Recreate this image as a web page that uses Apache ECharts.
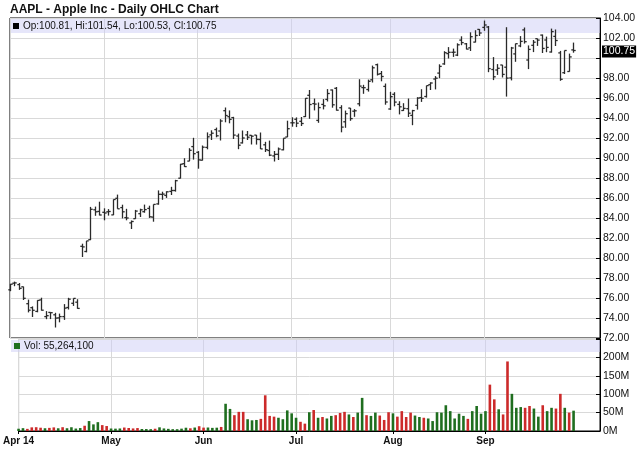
<!DOCTYPE html>
<html>
<head>
<meta charset="utf-8">
<script src="https://cdn.jsdelivr.net/npm/echarts@6/dist/echarts.min.js"></script>
<style>
html,body{margin:0;padding:0;background:#fff;}
#chart{width:640px;height:468px;}
</style>
</head>
<body>
<div id="chart"></div>
<script>
// ---- data (AAPL daily, Apr 1 - Sep 30 2014) ----
const dates = [
 '04-01','04-02','04-03','04-04','04-07','04-08','04-09','04-10','04-11','04-14','04-15','04-16','04-17','04-21','04-22','04-23','04-24','04-25','04-28','04-29','04-30',
 '05-01','05-02','05-05','05-06','05-07','05-08','05-09','05-12','05-13','05-14','05-15','05-16','05-19','05-20','05-21','05-22','05-23','05-27','05-28','05-29','05-30',
 '06-02','06-03','06-04','06-05','06-06','06-09','06-10','06-11','06-12','06-13','06-16','06-17','06-18','06-19','06-20','06-23','06-24','06-25','06-26','06-27','06-30',
 '07-01','07-02','07-03','07-07','07-08','07-09','07-10','07-11','07-14','07-15','07-16','07-17','07-18','07-21','07-22','07-23','07-24','07-25','07-28','07-29','07-30','07-31',
 '08-01','08-04','08-05','08-06','08-07','08-08','08-11','08-12','08-13','08-14','08-15','08-18','08-19','08-20','08-21','08-22','08-25','08-26','08-27','08-28','08-29',
 '09-02','09-03','09-04','09-05','09-08','09-09','09-10','09-11','09-12','09-15','09-16','09-17','09-18','09-19','09-22','09-23','09-24','09-25','09-26','09-29','09-30'
];
const futureDates = ['10-01','10-02','10-03','10-06','10-07','10-08'];

const opens = [
 76.82,77.48,77.34,77.12,75.43,75.03,74.66,75.81,74.14,74.56,74.32,74.01,74.14,75.05,75.47,75.58,81.17,80.65,81.83,84.82,84.66,
 84.57,84.62,84.31,85.97,85.04,84.04,83.51,83.93,84.43,84.63,84.96,84.09,85.41,86.36,86.26,86.66,86.75,87.98,89.43,89.69,91.14,
 90.57,89.78,91.06,92.31,92.84,92.70,94.73,94.13,94.04,92.20,91.51,92.31,92.27,92.29,91.85,91.32,90.75,90.21,90.37,90.82,92.10,
 93.52,93.87,93.67,94.14,96.27,95.44,93.76,95.36,95.86,96.80,96.97,95.03,93.62,94.99,94.68,95.42,97.04,96.85,97.82,99.33,98.44,97.16,
 94.90,96.37,95.36,94.75,94.93,94.26,95.27,96.04,96.15,97.33,97.90,98.49,99.41,100.44,100.57,100.29,101.79,101.42,101.02,101.59,102.86,
 103.06,103.10,98.85,98.80,99.30,99.08,98.01,100.41,101.21,102.81,99.80,101.27,101.93,102.29,101.80,100.60,102.16,100.51,98.53,98.65,100.81
];
const highs = [
 77.41,77.64,77.50,77.14,75.84,75.16,75.78,76.03,74.69,74.59,74.52,74.44,75.39,76.02,75.97,75.88,81.43,81.71,85.11,85.14,85.63,
 84.97,84.89,85.86,86.34,85.33,84.92,83.75,84.81,84.93,85.34,85.23,85.36,86.76,86.63,86.67,87.12,87.82,89.41,89.98,90.98,92.02,
 90.69,91.25,92.56,92.77,93.04,93.88,95.05,94.76,94.12,92.44,92.75,92.70,92.29,92.30,92.55,91.62,91.74,90.70,91.05,91.98,93.73,
 94.07,94.06,94.10,95.99,96.80,95.95,95.55,95.89,96.89,96.85,97.10,95.28,94.74,95.00,94.89,97.88,97.32,97.84,99.24,99.44,98.70,97.45,
 96.62,96.58,95.68,95.48,95.95,94.82,96.08,96.88,97.24,97.57,98.19,99.37,100.68,101.09,100.94,101.47,102.17,101.50,102.57,102.78,102.90,
 103.74,103.20,100.09,99.39,99.31,103.08,101.11,101.44,102.19,103.05,101.26,101.80,101.94,102.35,102.14,102.94,102.85,100.71,100.75,100.44,101.54
];
const lows = [
 76.68,77.18,76.81,75.80,74.56,74.10,74.57,74.74,73.88,73.89,73.05,73.57,73.81,74.85,75.21,74.92,80.10,80.57,81.79,84.22,84.26,
 83.77,84.24,84.29,84.92,83.96,83.77,82.90,83.91,84.10,84.53,84.01,83.63,85.33,85.82,86.01,86.30,86.64,87.95,89.11,89.68,89.84,
 88.93,89.75,90.87,91.80,92.07,91.75,93.57,93.47,91.90,90.88,91.45,91.80,91.35,91.34,90.90,90.60,90.19,89.65,89.80,90.77,92.09,
 93.13,93.09,93.20,94.10,93.92,94.76,93.52,94.86,95.65,95.03,94.74,92.57,93.02,93.72,94.12,95.17,96.42,96.64,97.55,98.25,97.67,95.33,
 94.81,95.17,94.36,94.71,94.10,93.28,94.84,95.61,96.04,96.80,96.86,97.98,99.32,99.95,100.11,100.19,101.28,100.86,100.70,101.56,102.20,
 102.72,98.58,97.79,98.31,98.05,96.14,97.76,99.62,101.08,101.44,98.89,100.59,101.21,100.50,100.58,100.54,101.20,97.72,98.40,98.63,100.53
];
const closes = [
 77.38,77.51,76.97,75.97,74.78,74.77,75.76,74.78,74.23,74.53,73.99,74.14,74.99,75.88,75.96,74.96,81.11,81.71,84.87,84.62,84.30,
 84.50,84.65,85.85,84.92,84.62,84.00,83.65,84.69,84.82,84.84,84.12,85.36,86.37,86.39,86.62,86.75,87.73,89.38,89.14,90.77,90.43,
 89.81,91.08,92.12,92.48,92.22,93.70,94.25,93.86,92.29,91.28,92.00,92.08,92.18,91.86,90.91,90.83,90.28,90.36,90.90,91.98,92.93,
 93.52,93.48,93.45,95.97,95.35,95.39,95.04,95.22,96.45,95.32,94.78,93.09,94.43,93.94,94.72,97.19,97.03,97.67,99.02,98.38,98.15,95.60,
 96.13,95.59,95.12,94.96,94.48,94.74,95.99,95.97,97.24,97.50,97.98,99.16,100.53,100.57,100.58,101.32,101.54,100.89,102.13,102.25,102.50,
 103.30,98.94,98.12,98.97,98.36,97.99,101.00,101.43,101.66,101.63,100.86,101.58,101.79,100.96,101.06,102.64,101.75,97.87,100.75,100.11,100.75
];
// volume in millions of shares
const volumes = [
 6.2,7.7,5.8,9.9,10.3,8.9,7.5,8.5,9.8,7.4,10.3,7.5,10.2,6.7,8.0,14.3,27.0,18.0,24.0,16.0,13.5,
 6.8,6.4,6.9,9.4,8.2,7.0,8.0,5.5,5.3,5.0,6.2,10.0,7.0,5.9,5.0,4.9,6.4,8.9,7.4,9.4,13.0,
 9.2,9.5,8.5,9.0,11.0,74,60,43,52,52,32,29,30,33,97,41,39,36,32,56,48,
 36,25,20,51,57,36,38,34,41,43,49,52,45,38,50,90,43,41,50,42,30,51,
 48,39,54,38,50,42,38,36,34,27,51,50,70,54,34,47,41,33,54,68,47,
 54,126,86,59,45,189,101,63,65,63,68,61,39,70,54,63,61,101,63,50,55.2641
];
const monthStarts = ['04-01','05-01','06-02','07-01','08-01','09-02'];
const monthLabels = ['Apr 14','May','Jun','Jul','Aug','Sep'];
const priceTicks = {min: 72, max: 104, step: 2};
const volTicks = {min: 0, max: 250, step: 50};

// ---- build ----
const categories = dates.concat(futureDates);
const ohlc = dates.map((d, i) => [i, opens[i], highs[i], lows[i], closes[i]]);
const n = dates.length;
const lastO = opens[n-1], lastH = highs[n-1], lastL = lows[n-1], lastC = closes[n-1];
const lastVol = Math.round(volumes[n-1] * 1e6);
const isMonthStart = (idx) => monthStarts.indexOf(categories[idx]) >= 0;
const FONT = '"Liberation Sans", Arial, sans-serif';
const GREEN = '#1f6e1f', RED = '#cc2a2a', GRIDC = '#d9d9d9';

const chart = echarts.init(document.getElementById('chart'), null, {renderer: 'canvas'});

const L = 10, R = 40;
const option = {
  animation: false,
  backgroundColor: '#fff',
  textStyle: {fontFamily: FONT},
  title: {
    text: 'AAPL - Apple Inc - Daily OHLC Chart',
    left: 10, top: 4, padding: 0,
    textStyle: {fontFamily: FONT, fontSize: 12, fontWeight: 'bold', color: '#111'}
  },
  grid: [
    {left: L, right: R, top: 18, height: 320, show: true, borderColor: '#000', borderWidth: 1, backgroundColor: 'transparent'},
    {left: L, right: R, top: 339, height: 92, show: true, borderColor: '#000', borderWidth: 1, backgroundColor: 'transparent'}
  ],
  xAxis: [
    {
      type: 'category', gridIndex: 0, data: categories, boundaryGap: false,
      axisLine: {show: false}, axisTick: {show: false}, axisLabel: {show: false},
      splitLine: {show: true, interval: (i) => isMonthStart(i), lineStyle: {color: GRIDC, width: 1}}
    },
    {
      type: 'category', gridIndex: 1, data: categories, boundaryGap: false,
      axisLine: {show: true, lineStyle: {color: '#000', width: 1}},
      axisTick: {show: true, interval: (i) => isMonthStart(i), length: 3, lineStyle: {color: '#000'}},
      axisLabel: {
        show: true, interval: (i) => isMonthStart(i), margin: 5,
        fontFamily: FONT, fontSize: 10, fontWeight: 'bold', color: '#111',
        formatter: (v) => { const k = monthStarts.indexOf(v); return k >= 0 ? monthLabels[k] : ''; }
      },
      splitLine: {show: true, interval: (i) => isMonthStart(i), lineStyle: {color: GRIDC, width: 1}}
    }
  ],
  yAxis: [
    {
      type: 'value', gridIndex: 0, position: 'right',
      min: priceTicks.min, max: priceTicks.max, interval: priceTicks.step,
      axisLine: {show: true, lineStyle: {color: '#000'}},
      axisTick: {show: true, inside: true, length: 4, lineStyle: {color: '#000'}},
      axisLabel: {
        margin: 3, fontFamily: FONT, fontSize: 10.5, color: '#111',
        formatter: (v) => Math.abs(v - lastC) < 1.2 ? '' : v.toFixed(2)
      },
      splitLine: {show: true, lineStyle: {color: GRIDC, width: 1}}
    },
    {
      type: 'value', gridIndex: 1, position: 'right',
      min: volTicks.min, max: volTicks.max, interval: volTicks.step,
      axisLine: {show: true, lineStyle: {color: '#000'}},
      axisTick: {show: true, inside: true, length: 4, lineStyle: {color: '#000'}},
      axisLabel: {
        margin: 3, fontFamily: FONT, fontSize: 10.5, color: '#111',
        formatter: (v) => v >= volTicks.max ? '' : v + 'M'
      },
      splitLine: {show: true, lineStyle: {color: GRIDC, width: 1}}
    }
  ],
  series: [
    {
      type: 'custom', xAxisIndex: 0, yAxisIndex: 0, z: 5,
      dimensions: ['idx', 'open', 'high', 'low', 'close'],
      encode: {x: 0, y: [1, 2, 3, 4]},
      data: ohlc,
      renderItem: (params, api) => {
        const i = api.value(0);
        const o = api.coord([i, api.value(1)]);
        const h = api.coord([i, api.value(2)]);
        const l = api.coord([i, api.value(3)]);
        const c = api.coord([i, api.value(4)]);
        const x = Math.round(h[0]) + 0.5;
        const st = {stroke: '#2a2a2a', lineWidth: 1.3};
        return {type: 'group', children: [
          {type: 'line', shape: {x1: x, y1: h[1], x2: x, y2: l[1]}, style: st},
          {type: 'line', shape: {x1: x - 2.2, y1: o[1], x2: x, y2: o[1]}, style: st},
          {type: 'line', shape: {x1: x, y1: c[1], x2: x + 2.2, y2: c[1]}, style: st}
        ]};
      }
    },
    {
      type: 'bar', xAxisIndex: 1, yAxisIndex: 1, z: 5,
      data: volumes, barWidth: 2.6,
      itemStyle: {
        color: (p) => {
          const i = p.dataIndex;
          const prev = i > 0 ? closes[i-1] : opens[i];
          return closes[i] >= prev ? GREEN : RED;
        }
      }
    }
  ]
};
chart.setOption(option);

const yLast = chart.convertToPixel({yAxisIndex: 0}, lastC);
const fmt = (v) => v.toFixed(2);
chart.setOption({
  graphic: [
    {type: 'rect', z: 1, shape: {x: L + 1, y: 19, width: 640 - L - R - 1, height: 14}, style: {fill: 'rgba(205,205,245,0.5)'}},
    {type: 'rect', z: 6, shape: {x: 13, y: 23, width: 6, height: 6}, style: {fill: '#000'}},
    {type: 'text', z: 6, style: {x: 23, y: 26.5, text: 'Op:' + fmt(lastO) + ', Hi:' + fmt(lastH) + ', Lo:' + fmt(lastL) + ', Cl:' + fmt(lastC), fill: '#111', font: '10px ' + FONT, verticalAlign: 'middle'}},
    {type: 'rect', z: 1, shape: {x: L + 1, y: 340, width: 640 - L - R - 1, height: 12}, style: {fill: 'rgba(205,205,245,0.5)'}},
    {type: 'rect', z: 6, shape: {x: 14, y: 343, width: 6, height: 6}, style: {fill: GREEN}},
    {type: 'text', z: 6, style: {x: 24, y: 346.5, text: 'Vol: ' + lastVol.toLocaleString('en-US'), fill: '#111', font: '10px ' + FONT, verticalAlign: 'middle'}},
    {type: 'text', z: 6, style: {x: 602, y: yLast + 1, text: fmt(lastC), fill: '#fff', font: '10.5px ' + FONT, verticalAlign: 'middle', backgroundColor: '#000', padding: [1, 1, 0, 1]}}
  ]
});
</script>
</body>
</html>
